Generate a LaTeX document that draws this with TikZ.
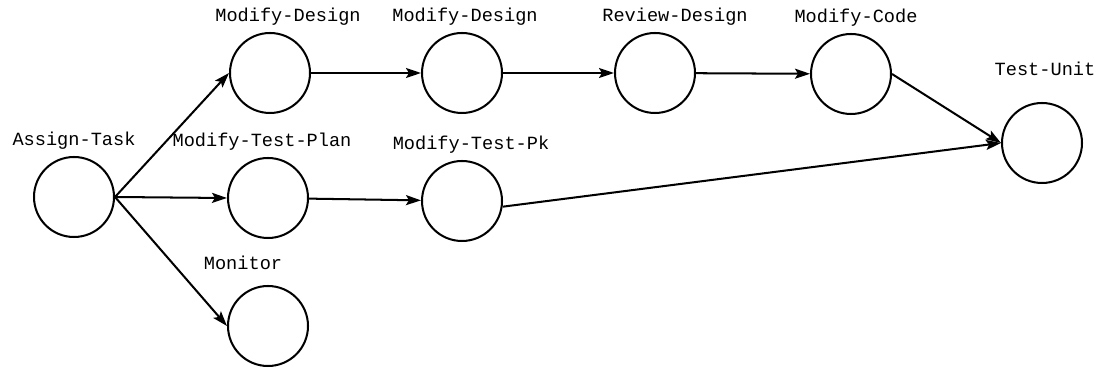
\documentclass[tikz,border=0pt]{standalone}
\usepackage{fontspec}
\newfontfamily\netfont{Liberation Mono}
\usetikzlibrary{arrows.meta,positioning}

\begin{document}
\begin{tikzpicture}[line width=1.15pt, node distance=1.8mm,
  act/.style={draw, circle, minimum size=1.6cm, inner sep=0pt},
  lbl/.style={font=\netfont\fontsize{10.6}{12}\selectfont, inner sep=0pt, text depth=0pt},
  >={Stealth[length=3mm,width=2mm,inset=0.6mm]}]
\useasboundingbox (0,0) rectangle (22.02,7.42);
% activities
\node[act] (assign) at (1.48,3.48) {};
\node[act] (design1) at (5.40,5.96) {};
\node[act] (design2) at (9.24,5.96) {};
\node[act] (review) at (13.10,5.96) {};
\node[act] (code) at (17.02,5.94) {};
\node[act] (testunit) at (20.84,4.56) {};
\node[act] (testplan) at (5.36,3.46) {};
\node[act] (testpk) at (9.24,3.40) {};
\node[act] (monitor) at (5.36,0.90) {};
% names
\node[lbl, above=of assign] (assignlbl) {Assign-Task};
\node[lbl, above=of design1, xshift=3.6mm] (design1lbl) {Modify-Design};
\node[lbl, above=of design2, xshift=0.6mm] (design2lbl) {Modify-Design};
\node[lbl, above=of review, xshift=4mm] (reviewlbl) {Review-Design};
\node[lbl, above=of code, xshift=1mm] (codelbl) {Modify-Code};
\node[lbl, above=5mm of testunit, xshift=0.6mm] (testunitlbl) {Test-Unit};
\node[lbl, above=of testplan, xshift=-1.2mm] (testplanlbl) {Modify-Test-Plan};
\node[lbl, above=of testpk, xshift=1.8mm] (testpklbl) {Modify-Test-Pk};
\node[lbl, above=2.8mm of monitor, xshift=-5mm] (monitorlbl) {Monitor};
% precedence
\draw[->] (assign.east) -- (design1.west);
\draw[->] (assign.east) -- (testplan.west);
\draw[->] (assign.east) -- (monitor.west);
\draw[->] (design1) -- (design2);
\draw[->] (design2) -- (review);
\draw[->] (review) -- (code);
\draw[->] (code.east) -- (testunit.west);
\draw[->] (testplan) -- (testpk);
\draw[->] (testpk.-8) -- (testunit.west);
\end{tikzpicture}
\end{document}
